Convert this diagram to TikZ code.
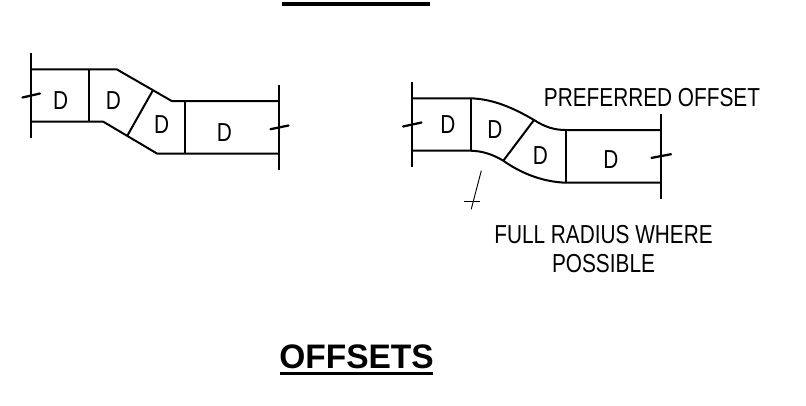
\documentclass[tikz,border=0pt]{standalone}
\usepackage{fontspec}
\setmainfont{Liberation Sans}
\tikzset{
  duct/.style={line width=1.5pt,line join=round},
  brk/.style={line width=1.7pt,line cap=round},
  thin leader/.style={line width=0.7pt},
  lbl/.style={inner sep=0pt,font=\fontsize{19.5}{20}\selectfont,xscale=0.8},
  dlbl/.style={inner sep=0pt,font=\fontsize{19.5}{20}\selectfont,xscale=0.8},
  title/.style={inner sep=0pt,font=\bfseries\fontsize{25.5}{26}\selectfont,xscale=0.985}
}
\begin{document}
\begin{tikzpicture}[x=0.75pt,y=-0.75pt]
\useasboundingbox (0,0) rectangle (806,405);
% top bar
\fill[black] (282,2) rectangle (430,6);
% left offset
\draw[duct] (31.3,52.7) -- (31.3,138);
\draw[duct] (31.3,69.3) -- (116.7,69.3) -- (171.7,101) -- (279.3,101);
\draw[duct] (31.3,121.7) -- (103.3,121.7) -- (157.3,153.7) -- (279.3,153.7);
\draw[duct] (89,69.3) -- (89,121.7);
\draw[duct] (152.7,90.7) -- (127.3,135.7);
\draw[duct] (184.7,101) -- (184.7,153.7);
\draw[duct] (279.3,85) -- (279.3,170);
\draw[brk] (22.5,97.5) -- (40,93.5);
\draw[brk] (270.5,129.2) -- (288.5,125.5);
\node[dlbl] (d1) at (60.7,100.7) {D};
\node[dlbl] (d2) at (113.3,100.7) {D};
\node[dlbl] (d3) at (161.7,125) {D};
\node[dlbl] (d4) at (224.3,132.7) {D};
% right offset
\draw[duct] (412.3,81.7) -- (412.3,167.3);
\draw[duct] (412.3,98.3) -- (470.7,98.3) .. controls (492,99) and (512,107) .. (534,120) .. controls (545,127) and (554,130) .. (566,130) -- (661,130);
\draw[duct] (412.3,150.7) -- (470.7,150.7) .. controls (482,151) and (492,154) .. (503.3,160.7) .. controls (522,174) and (544,182) .. (566,182.7) -- (661,182.7);
\draw[duct] (470.7,98.3) -- (470.7,150.7);
\draw[duct] (534,120) -- (503.3,160.7);
\draw[duct] (566,130) -- (566,182.7);
\draw[duct] (661,114) -- (661,199.3);
\draw[brk] (403,126.5) -- (421.5,122.5);
\draw[brk] (651.5,157.9) -- (671,154.2);
\node[dlbl] (d5) at (448,124.5) {D};
\node[dlbl] (d6) at (495,129.5) {D};
\node[dlbl] (d7) at (540.5,156) {D};
\node[dlbl] (d8) at (611,160) {D};
% radius leader
\coordinate (la) at (481.3,170.7);
\coordinate (lb) at (471.2,209.3);
\coordinate (lc) at (463.7,201.7);
\coordinate (ld) at (479.7,201.7);
\draw[thin leader] (la) -- (lb);
\draw[thin leader] (lc) -- (ld);
% texts
\node[lbl,anchor=center] (pref) at (652,97.5) {PREFERRED OFFSET};
\node[lbl,anchor=center] (full) at (603.5,234.5) {FULL RADIUS WHERE};
\node[lbl,anchor=center] (poss) at (603.5,264) {POSSIBLE};
\node[title] (off) at (356.5,357) {OFFSETS};
\fill[black] (280,371.7) rectangle (433,375);
\end{tikzpicture}
\end{document}
